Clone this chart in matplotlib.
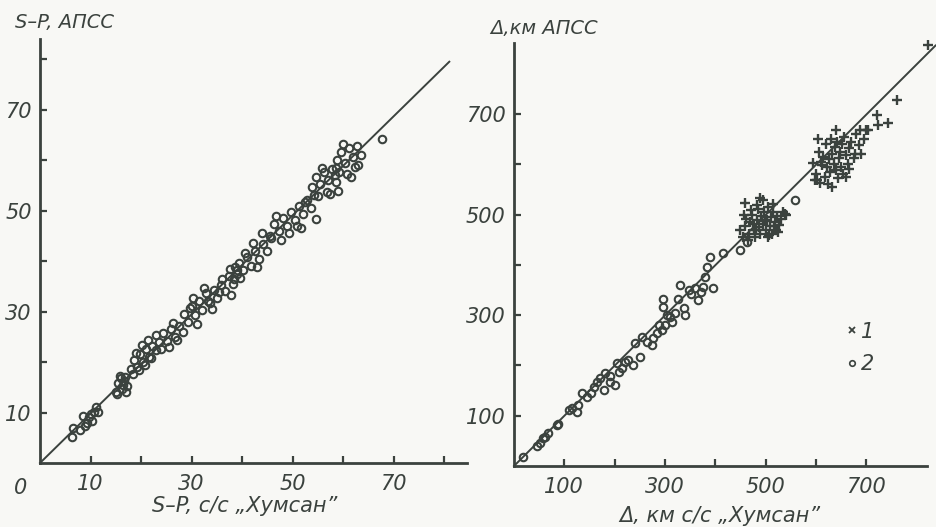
import matplotlib.pyplot as plt
from matplotlib.lines import Line2D
from matplotlib.ticker import FixedLocator, FixedFormatter

INK = "#3b423e"
BG = "#f8f8f5"

# left panel: S-P times, s
sp_x = [6.3, 6.6, 7.9, 8.5, 9.3, 9.6, 10.3, 10.6, 11.0, 11.5, 9.0, 10.0,
        15.0, 15.5, 16.0, 16.6, 17.2, 15.3, 16.2, 17.0, 15.8, 16.8, 16.4,
        18.0, 18.6, 19.2, 19.8, 20.4, 21.0, 21.6, 22.2, 18.4, 19.6, 20.8, 22.0, 19.0, 20.2, 21.4, 23.0,
        23.6, 24.4, 25.2, 26.0, 26.8, 27.6, 24.0, 25.6, 27.2, 28.2, 23.0, 26.4,
        28.5, 29.2, 30.0, 30.6, 31.4, 32.0, 32.8, 33.6, 34.4, 35.0, 35.8, 36.6, 37.4,
        38.2, 39.0, 39.6, 30.2, 32.4, 34.0, 36.0, 37.8, 29.6, 31.0, 33.2, 35.4, 38.6,
        37.6, 38.4, 39.4, 40.2, 41.0, 41.8, 42.6, 43.4, 44.2, 45.0, 45.8, 40.6, 42.2, 44.0, 39.0, 43.0,
        45.6, 46.4, 47.2, 48.0, 48.8, 49.6, 50.4, 51.2, 52.0, 52.8, 53.6, 54.6, 47.6, 49.2, 50.8, 52.4, 46.8, 51.6,
        53.8, 54.6, 55.4, 56.2, 57.0, 57.8, 58.6, 55.0, 56.8, 58.4, 57.4, 59.0, 55.8, 54.2,
        58.8, 59.6, 60.4, 61.2, 62.0, 62.8, 63.6, 59.2, 60.8, 62.4, 61.6, 60.0, 63.0, 58.6,
        67.6]
sp_y = [5.2, 7.0, 6.6, 9.4, 8.0, 9.2, 8.3, 10.1, 11.1, 10.2, 7.3, 9.8,
        14.0, 15.8, 16.8, 16.2, 15.2, 13.6, 14.6, 14.0, 17.2, 17.0, 15.4,
        18.6, 20.4, 19.0, 21.6, 20.0, 22.6, 21.0, 23.2, 17.6, 18.4, 19.4, 20.8, 21.8, 23.4, 24.4, 22.4,
        24.0, 25.8, 24.2, 26.6, 25.0, 27.2, 22.6, 23.0, 24.4, 26.0, 25.4, 27.8,
        29.6, 28.0, 31.2, 29.4, 32.0, 30.4, 33.6, 31.6, 34.2, 32.6, 35.2, 34.0, 37.0,
        35.4, 38.2, 36.6, 32.6, 34.6, 30.6, 36.4, 33.2, 30.8, 27.6, 32.0, 33.8, 38.8,
        38.4, 36.4, 39.6, 38.2, 40.8, 39.0, 42.0, 40.4, 43.4, 42.0, 44.6, 41.6, 43.6, 45.6, 37.4, 38.8,
        45.0, 47.4, 46.0, 48.6, 47.0, 49.8, 48.2, 51.0, 49.4, 52.2, 50.6, 48.4, 44.2, 45.6, 47.0, 51.8, 49.0, 46.6,
        54.6, 56.6, 55.2, 57.6, 56.0, 58.2, 55.6, 52.8, 53.6, 57.0, 53.2, 53.8, 58.4, 53.0,
        60.0, 61.6, 59.4, 62.4, 60.6, 62.8, 61.0, 57.6, 57.2, 58.6, 56.6, 63.2, 59.0, 58.4,
        64.2]
sp_line_x = [0, 81]
sp_line_y = [0, 79.5]

# right panel: epicentral distance, km
# 2 - circles
d2_x = [18, 45, 52, 58, 62, 68, 85, 88, 110, 115, 128, 125, 135, 145, 154, 160, 165,
        171, 181, 178, 191, 191, 201, 204, 208, 214, 220, 227, 237, 241, 251, 254, 265,
        274, 277, 284, 288, 294, 297, 297, 304, 300, 310, 314, 320, 327, 330, 337, 340,
        347, 352, 360, 366, 372, 376, 380, 383, 390, 396, 416, 449, 463, 559]
d2_y = [18, 40, 45, 55, 58, 65, 81, 84, 112, 115, 121, 108, 145, 138, 145, 158, 168,
        174, 184, 151, 178, 168, 161, 204, 186, 194, 207, 211, 201, 244, 217, 257, 247,
        241, 254, 264, 280, 270, 333, 317, 300, 280, 296, 287, 304, 333, 360, 314, 300,
        350, 342, 353, 330, 345, 356, 376, 396, 415, 353, 423, 429, 446, 529]
# 1 - crosses
d1_x = [450, 455, 460, 462, 468, 470, 474, 478, 480, 483, 486, 488, 490, 492, 495, 497,
        500, 502, 505, 508, 510, 512, 515, 518, 520, 523, 526, 530, 535, 540, 458, 466,
        476, 484, 494, 504, 514, 524, 472, 482, 498, 506, 516, 459, 489, 539,
        595, 600, 602, 606, 608, 612, 615, 618, 620, 623, 626, 628, 630, 633, 636, 638,
        640, 643, 646, 648, 650, 653, 656, 660, 663, 666, 670, 675, 680, 685, 690, 695,
        700, 605, 641, 688, 704, 721, 724, 744, 761, 610, 625, 645, 655, 665, 678, 598,
        632, 660, 823]
d1_y = [470, 455, 478, 492, 462, 485, 500, 470, 455, 490, 510, 475, 462, 498, 482, 505,
        470, 490, 515, 478, 495, 462, 505, 485, 470, 498, 480, 492, 505, 500, 500, 450,
        482, 518, 528, 455, 520, 465, 508, 470, 488, 460, 478, 522, 532, 502,
        602, 580, 569, 625, 562, 598, 615, 575, 640, 595, 610, 585, 650, 620, 600, 635,
        588, 645, 612, 625, 595, 640, 655, 618, 600, 632, 645, 612, 660, 638, 621, 650,
        668, 651, 668, 668, 668, 698, 678, 681, 728, 605, 560, 572, 580, 590, 620, 569,
        555, 575, 838]
d_line_x = [0, 838]
d_line_y = [0, 836]

sp_ticks = [10, 20, 30, 40, 50, 60, 70, 80]
sp_labels = ["10", "", "30", "", "50", "", "70", ""]
d_ticks = [100, 200, 300, 400, 500, 600, 700]
d_labels = ["100", "", "300", "", "500", "", "700"]

plt.rcParams["font.family"] = ["DejaVu Sans"]
FONT = dict(style="italic", color=INK)

W, H = 936, 527
fig = plt.figure(figsize=(W / 100, H / 100), dpi=100, facecolor=BG)

ax1 = fig.add_axes([40 / W, (H - 463) / H, 427 / W, 424 / H])
ax2 = fig.add_axes([514 / W, (H - 466) / H, 413 / W, 423 / H])


def style(ax, ticks, labels, xmax, ymax):
    ax.set_facecolor("none")
    ax.set_xlim(0, xmax)
    ax.set_ylim(0, ymax)
    for s in ("top", "right"):
        ax.spines[s].set_visible(False)
    for s in ("left", "bottom"):
        ax.spines[s].set_color(INK)
        ax.spines[s].set_linewidth(2.0)
    for axis in (ax.xaxis, ax.yaxis):
        axis.set_major_locator(FixedLocator(ticks))
        axis.set_major_formatter(FixedFormatter(labels))
    ax.tick_params(direction="in", length=5, width=1.6, color=INK,
                   labelsize=15, labelcolor=INK)
    ax.tick_params(axis="x", pad=8)
    ax.tick_params(axis="y", pad=6)
    for lab in ax.get_xticklabels() + ax.get_yticklabels():
        lab.set_fontstyle("italic")


style(ax1, sp_ticks, sp_labels, 84.5, 84)
style(ax2, d_ticks, d_labels, 821, 841)

ax1.plot(sp_line_x, sp_line_y, color=INK, lw=1.4, clip_on=False)
ax1.plot(sp_x, sp_y, "o", ms=5.4, mfc="none", mec=INK, mew=1.5, clip_on=False)
ax1.text(-3.8, -3, "0", ha="center", va="top", fontsize=15, **FONT)

ax2.plot(d_line_x, d_line_y, color=INK, lw=1.4, clip_on=False)
ax2.plot(d2_x, d2_y, "o", ms=5.4, mfc="none", mec=INK, mew=1.5, clip_on=False)
ax2.plot(d1_x, d1_y, "+", ms=7.5, mec=INK, mew=1.7, clip_on=False)

handles = [Line2D([], [], ls="none", marker="x", ms=4, mec=INK, mew=1.3),
           Line2D([], [], ls="none", marker="o", ms=4, mfc="none", mec=INK, mew=1.2)]
leg = ax2.legend(handles, ["1", "2"], loc="upper left", frameon=False,
                 bbox_to_anchor=(828 / W, 1 - 303 / H), bbox_transform=fig.transFigure,
                 handlelength=0.5, handletextpad=0.2, labelspacing=0.6,
                 prop=dict(size=15, style="italic"))
for t in leg.get_texts():
    t.set_color(INK)

fig.text(15 / W, 1 - 22 / H, "S–P, АПСС", ha="left", va="center", fontsize=14, **FONT)
fig.text(490 / W, 1 - 28 / H, "Δ,км АПСС", ha="left", va="center", fontsize=14, **FONT)
fig.text(245 / W, 1 - 506 / H, "S–P, с/с „Хумсан”", ha="center", va="center", fontsize=15, **FONT)
fig.text(720 / W, 1 - 516 / H, "Δ, км с/с „Хумсан”", ha="center", va="center", fontsize=15, **FONT)

fig.savefig("out.png", dpi=100, facecolor=BG)
